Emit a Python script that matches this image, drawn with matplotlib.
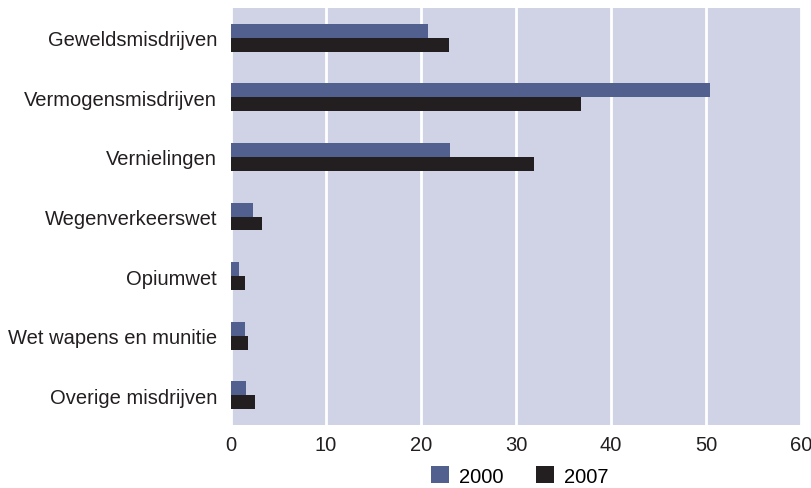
import numpy as np
import matplotlib.pyplot as plt

categories = ['Geweldsmisdrijven', 'Vermogensmisdrijven', 'Vernielingen',
              'Wegenverkeerswet', 'Opiumwet', 'Wet wapens en munitie',
              'Overige misdrijven']
v2000 = [20.7, 50.4, 23.1, 2.3, 0.85, 1.5, 1.6]
v2007 = [22.9, 36.8, 31.9, 3.3, 1.5, 1.8, 2.5]
years = ['2000', '2007']

plt.rcParams['font.family'] = ['Liberation Sans', 'DejaVu Sans']

fig = plt.figure(figsize=(8.11, 4.89), dpi=100)
ax = fig.add_axes([231/811, 1-426/489, 570/811, 417/489])
ax.set_facecolor('#d0d3e6')

y = np.arange(len(categories))
h = 0.235
ax.barh(y - h/2, v2000, height=h, color='#51608f', label=years[0], zorder=3)
ax.barh(y + h/2, v2007, height=h, color='#231f20', label=years[1], zorder=3)

ax.set_xlim(0, 60)
ax.set_ylim(len(categories) - 0.5, -0.5)
ax.set_xticks(range(0, 61, 10))
ax.set_yticks(y)
ax.set_yticklabels(categories)
ax.xaxis.grid(True, color='white', linewidth=2, zorder=1)
ax.tick_params(length=0, labelsize=14.5, colors='#231f20')
ax.tick_params(axis='x', pad=7)
ax.tick_params(axis='y', pad=10)
for s in ax.spines.values():
    s.set_visible(False)

fig.legend(loc='center', bbox_to_anchor=(520/811, 1-477/489), ncol=2,
           frameon=False, fontsize=14.5, handlelength=0.9, handleheight=0.9,
           handletextpad=0.5, columnspacing=1.6)

fig.savefig('out.png', dpi=100)
